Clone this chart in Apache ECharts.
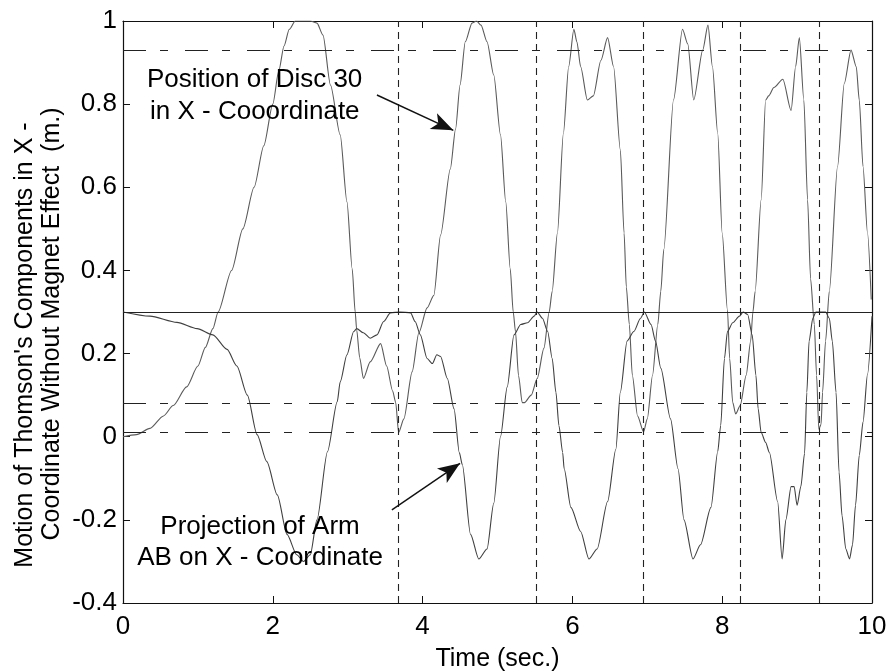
<!DOCTYPE html>
<html>
<head>
<meta charset="utf-8">
<script src="https://cdn.jsdelivr.net/npm/echarts@6/dist/echarts.min.js"></script>
<style>
  html, body { margin: 0; padding: 0; background: #fff; }
  #chart { width: 887px; height: 672px; }
</style>
</head>
<body>
<div id="chart"></div>
<script>
// Time samples (s) and x-position of disc 30 (m)
const discT = [0.00,0.18,0.36,0.54,0.67,0.85,1.00,1.10,1.20,1.27,1.45,1.60,1.75,1.88,2.00,2.08,2.15,2.22,2.30,2.50,2.59,2.67,2.77,2.90,2.99,3.06,3.10,3.12,3.16,3.21,3.30,3.44,3.52,3.60,3.64,3.68,3.75,3.86,3.95,4.06,4.15,4.24,4.37,4.44,4.50,4.57,4.66,4.72,4.78,4.86,4.95,5.04,5.11,5.17,5.21,5.24,5.28,5.33,5.36,5.45,5.53,5.62,5.69,5.73,5.80,5.88,5.95,6.02,6.06,6.11,6.20,6.28,6.38,6.47,6.55,6.64,6.69,6.72,6.76,6.80,6.87,6.95,7.00,7.07,7.14,7.18,7.22,7.35,7.47,7.54,7.62,7.74,7.81,7.87,7.94,8.00,8.07,8.10,8.14,8.18,8.24,8.32,8.38,8.41,8.44,8.52,8.58,8.62,8.69,8.81,8.92,8.98,9.03,9.09,9.14,9.18,9.23,9.26,9.29,9.32,9.34,9.38,9.43,9.54,9.63,9.72,9.79,9.83,9.88,9.94,9.99];
const discY = [0.000,0.005,0.020,0.050,0.075,0.120,0.170,0.215,0.260,0.300,0.400,0.500,0.600,0.700,0.800,0.880,0.940,0.980,1.000,1.000,0.995,0.966,0.846,0.726,0.565,0.404,0.300,0.257,0.190,0.140,0.180,0.224,0.170,0.110,0.083,0.010,0.043,0.156,0.250,0.310,0.340,0.485,0.644,0.740,0.846,0.950,0.995,1.000,0.990,0.950,0.870,0.726,0.565,0.404,0.300,0.253,0.148,0.082,0.082,0.100,0.140,0.213,0.300,0.350,0.490,0.730,0.890,0.980,0.950,0.890,0.810,0.820,0.905,0.960,0.890,0.690,0.490,0.360,0.270,0.148,0.050,0.012,0.043,0.148,0.270,0.350,0.450,0.810,0.980,0.945,0.810,0.930,0.990,0.890,0.730,0.490,0.305,0.188,0.083,0.055,0.075,0.148,0.230,0.300,0.350,0.570,0.810,0.820,0.840,0.860,0.785,0.890,0.960,0.810,0.570,0.380,0.270,0.148,0.018,0.030,0.107,0.230,0.350,0.650,0.850,0.930,0.890,0.810,0.650,0.490,0.330];

// Time samples (s) and projection of arm AB on the x-coordinate (m)
const armT = [0.00,0.36,0.72,0.99,1.20,1.39,1.52,1.66,1.79,1.92,2.06,2.19,2.32,2.41,2.50,2.59,2.73,2.86,2.90,2.99,3.08,3.12,3.21,3.30,3.39,3.48,3.57,3.70,3.84,3.90,3.97,4.06,4.13,4.19,4.24,4.33,4.42,4.49,4.53,4.64,4.75,4.86,4.95,5.04,5.13,5.22,5.31,5.40,5.49,5.53,5.60,5.67,5.73,5.78,5.82,5.87,5.89,5.98,6.11,6.22,6.33,6.47,6.58,6.64,6.73,6.82,6.91,6.96,7.05,7.11,7.18,7.31,7.41,7.49,7.61,7.71,7.85,7.94,7.98,8.03,8.07,8.14,8.23,8.28,8.34,8.40,8.45,8.48,8.52,8.58,8.63,8.74,8.80,8.85,8.92,8.96,9.00,9.05,9.10,9.13,9.16,9.21,9.25,9.38,9.43,9.47,9.52,9.56,9.60,9.65,9.70,9.74,9.78,9.83,9.88,9.94,10.00];
const armY = [0.300,0.290,0.275,0.260,0.245,0.210,0.170,0.100,0.005,-0.060,-0.140,-0.235,-0.284,-0.300,-0.284,-0.200,-0.036,0.084,0.132,0.197,0.253,0.260,0.250,0.237,0.245,0.277,0.298,0.300,0.298,0.277,0.245,0.188,0.176,0.197,0.193,0.140,0.067,-0.038,-0.067,-0.235,-0.294,-0.270,-0.160,0.000,0.120,0.245,0.270,0.274,0.290,0.300,0.285,0.253,0.188,0.107,0.027,-0.038,-0.077,-0.170,-0.228,-0.294,-0.270,-0.156,-0.030,0.107,0.230,0.253,0.285,0.300,0.270,0.230,0.165,0.043,-0.077,-0.200,-0.294,-0.260,-0.170,-0.036,0.027,0.188,0.253,0.274,0.290,0.300,0.294,0.245,0.148,0.067,0.010,-0.014,-0.038,-0.156,-0.294,-0.200,-0.120,-0.120,-0.165,-0.120,-0.040,0.107,0.230,0.285,0.300,0.300,0.285,0.230,0.107,-0.085,-0.190,-0.270,-0.294,-0.260,-0.165,-0.045,0.035,0.150,0.290];

// Reference levels and event times
const dashLevels = [0.925, 0.08, 0.005];
const solidLevel = 0.3;
const eventTimes = [3.68, 5.52, 6.95, 8.24, 9.30];

// Axis ticks
const xTicks = [0, 2, 4, 6, 8, 10];
const yTicks = [-0.4, -0.2, 0, 0.2, 0.4, 0.6, 0.8, 1];

// Annotation arrows: [start, end] in data units
const discArrow = [[3.39, 0.822], [4.41, 0.737]];
const armArrow = [[3.59, -0.176], [4.50, -0.064]];

const FONT = 'Liberation Sans, Arial, Helvetica, sans-serif';

const zip = (a, b) => a.map((v, i) => [v, b[i]]);

const chart = echarts.init(document.getElementById('chart'), null, { renderer: 'canvas' });

const axisCommon = {
  type: 'value',
  axisLine: { show: true, onZero: false, lineStyle: { color: '#111', width: 1.2 } },
  axisTick: { show: true, inside: true, length: 7, lineStyle: { color: '#111', width: 1 } },
  splitLine: { show: false }
};

const option = {
  animation: false,
  backgroundColor: '#ffffff',
  // fixed plot box; labels are allowed to sit outside it freely
  grid: { left: 123, right: 15, top: 21, bottom: 69, containLabel: false, outerBoundsMode: 'none' },
  xAxis: [
    Object.assign({}, axisCommon, {
      min: xTicks[0], max: xTicks[xTicks.length - 1], interval: 2, position: 'bottom',
      axisLabel: { color: '#000', fontSize: 26, fontFamily: FONT, margin: 11 },
      name: 'Time (sec.)', nameLocation: 'middle', nameGap: 44,
      nameTextStyle: { color: '#000', fontSize: 25, fontFamily: FONT }
    }),
    Object.assign({}, axisCommon, {
      min: xTicks[0], max: xTicks[xTicks.length - 1], interval: 2, position: 'top',
      axisLabel: { show: false }
    })
  ],
  yAxis: [
    Object.assign({}, axisCommon, {
      min: yTicks[0], max: yTicks[yTicks.length - 1], interval: 0.2, position: 'left',
      axisLabel: {
        color: '#000', fontSize: 26, fontFamily: FONT, margin: 6,
        formatter: v => String(Math.round(v * 10) / 10)
      }
    }),
    Object.assign({}, axisCommon, {
      min: yTicks[0], max: yTicks[yTicks.length - 1], interval: 0.2, position: 'right',
      axisLabel: { show: false }
    })
  ],
  series: [
    {
      name: 'Position of Disc 30',
      type: 'line',
      data: zip(discT, discY),
      showSymbol: false,
      smooth: 0.25,
      smoothMonotone: 'x',
      lineStyle: { color: '#5a5a5a', width: 1.1 },
      z: 3,
      markLine: {
        silent: true,
        symbol: 'none',
        label: { show: false },
        data: [
          ...dashLevels.map(v => ({ yAxis: v, lineStyle: { color: '#222', width: 1.1, type: [23, 14, 8, 17] } })),
          { yAxis: solidLevel, lineStyle: { color: '#222', width: 1.2, type: 'solid' } },
          ...eventTimes.map(t => ({ xAxis: t, lineStyle: { color: '#222', width: 1.1, type: [7, 5] } }))
        ]
      }
    },
    {
      name: 'Projection of Arm AB',
      type: 'line',
      data: zip(armT, armY),
      showSymbol: false,
      smooth: 0.25,
      smoothMonotone: 'x',
      lineStyle: { color: '#404040', width: 1.1 },
      z: 3,
      markLine: {
        silent: true,
        symbol: ['none', 'arrow'],
        symbolSize: [13, 22],
        label: { show: false },
        lineStyle: { color: '#111', width: 1.4, type: 'solid' },
        data: [
          [{ coord: discArrow[0] }, { coord: discArrow[1] }],
          [{ coord: armArrow[0] }, { coord: armArrow[1] }]
        ]
      }
    }
  ],
  graphic: [
    { type: 'text', x: 147, y: 80, style: { text: 'Position of Disc 30', font: '26px ' + FONT, fill: '#000', textAlign: 'left', textVerticalAlign: 'middle' }, z: 10 },
    { type: 'text', x: 150, y: 112, style: { text: 'in X - Cooordinate', font: '26px ' + FONT, fill: '#000', textAlign: 'left', textVerticalAlign: 'middle' }, z: 10 },
    { type: 'text', x: 260, y: 527, style: { text: 'Projection of Arm', font: '26px ' + FONT, fill: '#000', textAlign: 'center', textVerticalAlign: 'middle' }, z: 10 },
    { type: 'text', x: 260, y: 558, style: { text: 'AB on X - Coordinate', font: '26px ' + FONT, fill: '#000', textAlign: 'center', textVerticalAlign: 'middle' }, z: 10 },
    { type: 'text', x: 25, y: 345, rotation: Math.PI / 2, style: { text: "Motion of Thomson's Components in X -", font: '25px ' + FONT, fill: '#000', textAlign: 'center', textVerticalAlign: 'middle' }, z: 10 },
    { type: 'text', x: 52, y: 324, rotation: Math.PI / 2, style: { text: 'Coordinate Without Magnet Effect  (m.)', font: '25px ' + FONT, fill: '#000', textAlign: 'center', textVerticalAlign: 'middle' }, z: 10 }
  ]
};

chart.setOption(option);
</script>
</body>
</html>
